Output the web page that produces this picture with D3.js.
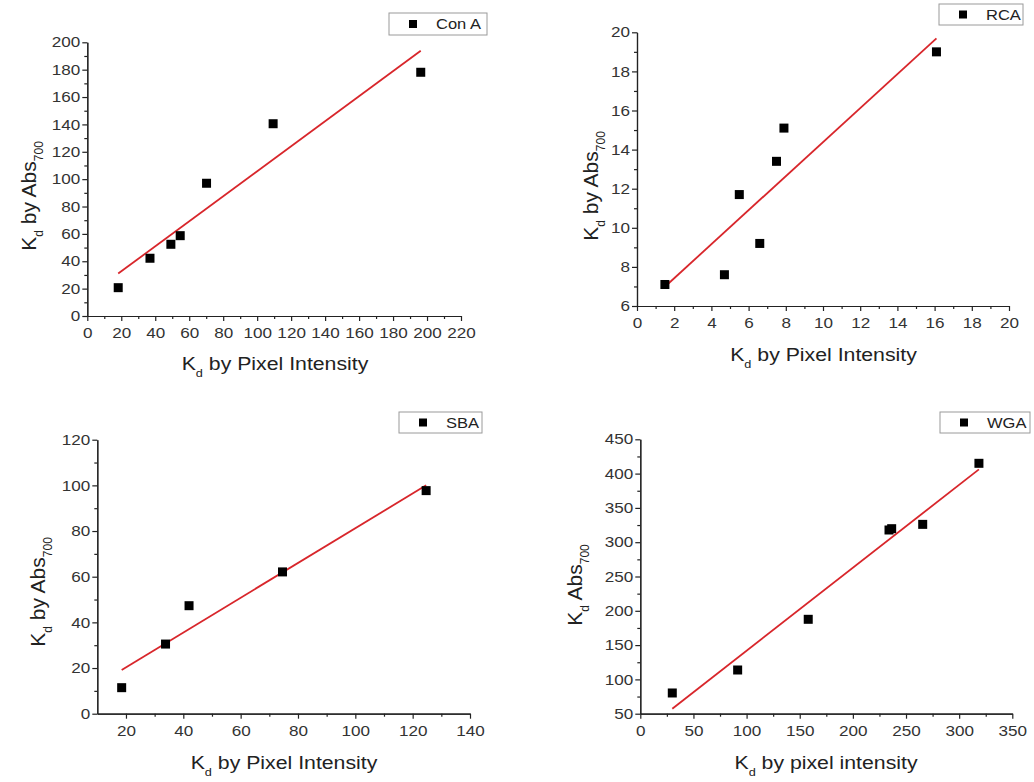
<!DOCTYPE html>
<html lang="en">
<head>
<meta charset="utf-8">
<title>Kd by Abs700 vs Kd by Pixel Intensity</title>
<script src="https://cdn.jsdelivr.net/npm/d3@7"></script>
<style>
  body { margin: 0; background: #fff; }
  svg { display: block; font-family: "Liberation Sans", Arial, sans-serif; }
  .axis path, .axis line { stroke: #222; stroke-width: 1.2px; }
  .axis text { fill: #333; font-size: 14.5px; font-family: "Liberation Sans", Arial, sans-serif; }
</style>
</head>
<body>
<script>
  var w = 1034;
  var h = 782;
  var SX = 1.18;   // the source picture is a bit stretched sideways

  // Con A
  var conA_x = [18.2, 36.9, 49.2, 54.7, 70.2, 109.4, 196.3];
  var conA_y = [20.7, 42.2, 52.4, 58.7, 97.0, 140.5, 178.1];
  var conA_xTicks = [0, 20, 40, 60, 80, 100, 120, 140, 160, 180, 200, 220];
  var conA_yTicks = [0, 20, 40, 60, 80, 100, 120, 140, 160, 180, 200];

  // RCA
  var rca_x = [1.5, 4.7, 5.5, 6.6, 7.5, 7.9, 16.1];
  var rca_y = [7.1, 7.6, 11.7, 9.2, 13.4, 15.1, 19.0];
  var rca_xTicks = [0, 2, 4, 6, 8, 10, 12, 14, 16, 18, 20];
  var rca_yTicks = [6, 8, 10, 12, 14, 16, 18, 20];

  // SBA
  var sba_x = [18.5, 33.8, 42.0, 74.6, 124.7];
  var sba_y = [11.4, 30.5, 47.3, 62.1, 97.7];
  var sba_xTicks = [20, 40, 60, 80, 100, 120, 140];
  var sba_yTicks = [0, 20, 40, 60, 80, 100, 120];

  // WGA
  var wga_x = [30.1, 91.6, 158.0, 234.0, 236.5, 265.7, 318.6];
  var wga_y = [80.2, 113.7, 187.6, 317.8, 319.7, 326.0, 415.0];
  var wga_xTicks = [0, 50, 100, 150, 200, 250, 300, 350];
  var wga_yTicks = [50, 100, 150, 200, 250, 300, 350, 400, 450];

  var svg = d3.select("body")
              .append("svg")
              .attr("width", w)
              .attr("height", h);

  // least squares fit through the points
  function fit(xs, ys) {
    var mx = d3.mean(xs), my = d3.mean(ys);
    var sxy = d3.sum(xs, function(x, i) { return (x - mx) * (ys[i] - my); });
    var sxx = d3.sum(xs, function(x) { return (x - mx) * (x - mx); });
    var b = sxy / sxx;
    return { b: b, a: my - b * mx };
  }

  function draw_panel(p) {
    var g = svg.append("g");

    var x = d3.scaleLinear().domain(p.xDomain).range([p.left, p.right]);
    var y = d3.scaleLinear().domain(p.yDomain).range([p.bottom, p.top]);

    // minor ticks first, under the major ones
    g.append("g")
     .attr("class", "axis")
     .attr("transform", "translate(0," + p.bottom + ")")
     .call(d3.axisBottom(x).tickValues(p.xMinor).tickSize(3).tickSizeOuter(0).tickFormat(""));
    g.append("g")
     .attr("class", "axis")
     .attr("transform", "translate(" + p.left + ",0)")
     .call(d3.axisLeft(y).tickValues(p.yMinor).tickSize(3).tickSizeOuter(0).tickFormat(""));

    var xa = g.append("g")
              .attr("class", "axis")
              .attr("transform", "translate(0," + p.bottom + ")")
              .call(d3.axisBottom(x).tickValues(p.xTicks).tickSize(5).tickSizeOuter(0).tickPadding(7));
    xa.selectAll(".tick text").attr("transform", "scale(" + SX + ",1)");

    var ya = g.append("g")
              .attr("class", "axis")
              .attr("transform", "translate(" + p.left + ",0)")
              .call(d3.axisLeft(y).tickValues(p.yTicks).tickSize(5).tickSizeOuter(0));
    ya.selectAll(".tick text")
      .attr("x", 0)
      .attr("transform", "translate(-7,0) scale(" + SX + ",1)");

    // fit line
    var f = fit(p.xs, p.ys);
    var ext = d3.extent(p.xs);
    g.append("line")
     .attr("x1", x(ext[0])).attr("y1", y(f.a + f.b * ext[0]))
     .attr("x2", x(ext[1])).attr("y2", y(f.a + f.b * ext[1]))
     .attr("stroke", "#d8262b")
     .attr("stroke-width", 1.8);

    // points
    var s = 9;
    g.selectAll("rect.pt")
     .data(p.xs)
     .enter()
     .append("rect")
     .attr("class", "pt")
     .attr("x", function(d) { return x(d) - s / 2; })
     .attr("y", function(d, i) { return y(p.ys[i]) - s / 2; })
     .attr("width", s)
     .attr("height", s)
     .attr("fill", "#000");

    // x title
    var xt = g.append("text")
              .attr("transform", "translate(" + p.xt[0] + "," + p.xt[1] + ") scale(1.15,1)")
              .attr("text-anchor", "middle")
              .attr("fill", "#222")
              .attr("font-size", 18.5);
    xt.append("tspan").text("K");
    xt.append("tspan").attr("font-size", 11).attr("dy", 7).text("d");
    xt.append("tspan").attr("dy", -7).text(p.xLabel);

    // y title
    var yt = g.append("text")
              .attr("transform", "translate(" + p.yt[0] + "," + p.yt[1] + ") rotate(-90)")
              .attr("text-anchor", "middle")
              .attr("fill", "#222")
              .attr("font-size", 21);
    yt.append("tspan").text("K");
    yt.append("tspan").attr("font-size", 12).attr("dy", 7).text("d");
    yt.append("tspan").attr("dy", -7).text(p.yLabel);
    yt.append("tspan").attr("font-size", 12).attr("dy", 7).text("700");

    // legend
    var lg = p.legend;
    g.append("rect")
     .attr("x", lg[0]).attr("y", lg[1])
     .attr("width", lg[2]).attr("height", lg[3])
     .attr("fill", "#fff")
     .attr("stroke", "#9a9a9a")
     .attr("stroke-width", 1);
    g.append("rect")
     .attr("x", lg[0] + 20).attr("y", lg[1] + lg[3] / 2 - 4)
     .attr("width", 8).attr("height", 8)
     .attr("fill", "#000");
    g.append("text")
     .attr("transform", "translate(" + (lg[0] + 47) + "," + (lg[1] + lg[3] / 2 + 5) + ") scale(" + SX + ",1)")
     .attr("fill", "#222")
     .attr("font-size", 14)
     .text(p.name);
  }

  draw_panel({
    name: "Con A", xs: conA_x, ys: conA_y,
    xDomain: [0, 220], yDomain: [0, 200],
    xTicks: conA_xTicks, yTicks: conA_yTicks,
    xMinor: d3.range(10, 220, 20), yMinor: d3.range(10, 200, 20),
    left: 87.3, right: 461, top: 42.3, bottom: 316,
    xt: [275, 370], yt: [36, 196],
    xLabel: " by Pixel Intensity", yLabel: " by Abs",
    legend: [389, 13, 98, 22]
  });

  draw_panel({
    name: "RCA", xs: rca_x, ys: rca_y,
    xDomain: [0, 20], yDomain: [6, 20],
    xTicks: rca_xTicks, yTicks: rca_yTicks,
    xMinor: d3.range(1, 20, 2), yMinor: d3.range(7, 20, 2),
    left: 637, right: 1009, top: 32.3, bottom: 306,
    xt: [823.5, 361], yt: [598, 186],
    xLabel: " by Pixel Intensity", yLabel: " by Abs",
    legend: [939, 4, 84, 21]
  });

  draw_panel({
    name: "SBA", xs: sba_x, ys: sba_y,
    xDomain: [10, 140], yDomain: [0, 120],
    xTicks: sba_xTicks, yTicks: sba_yTicks,
    xMinor: d3.range(30, 140, 20), yMinor: d3.range(10, 120, 20),
    left: 97.3, right: 470, top: 439.7, bottom: 713.7,
    xt: [284, 769], yt: [45, 592],
    xLabel: " by Pixel Intensity", yLabel: " by Abs",
    legend: [399, 412, 83, 21]
  });

  draw_panel({
    name: "WGA", xs: wga_x, ys: wga_y,
    xDomain: [0, 350], yDomain: [50, 450],
    xTicks: wga_xTicks, yTicks: wga_yTicks,
    xMinor: d3.range(25, 350, 50), yMinor: d3.range(75, 450, 50),
    left: 640.3, right: 1012.3, top: 439.3, bottom: 713.7,
    xt: [826, 769], yt: [582, 585],
    xLabel: " by pixel intensity", yLabel: " Abs",
    legend: [940, 412, 90, 21]
  });
</script>
</body>
</html>
